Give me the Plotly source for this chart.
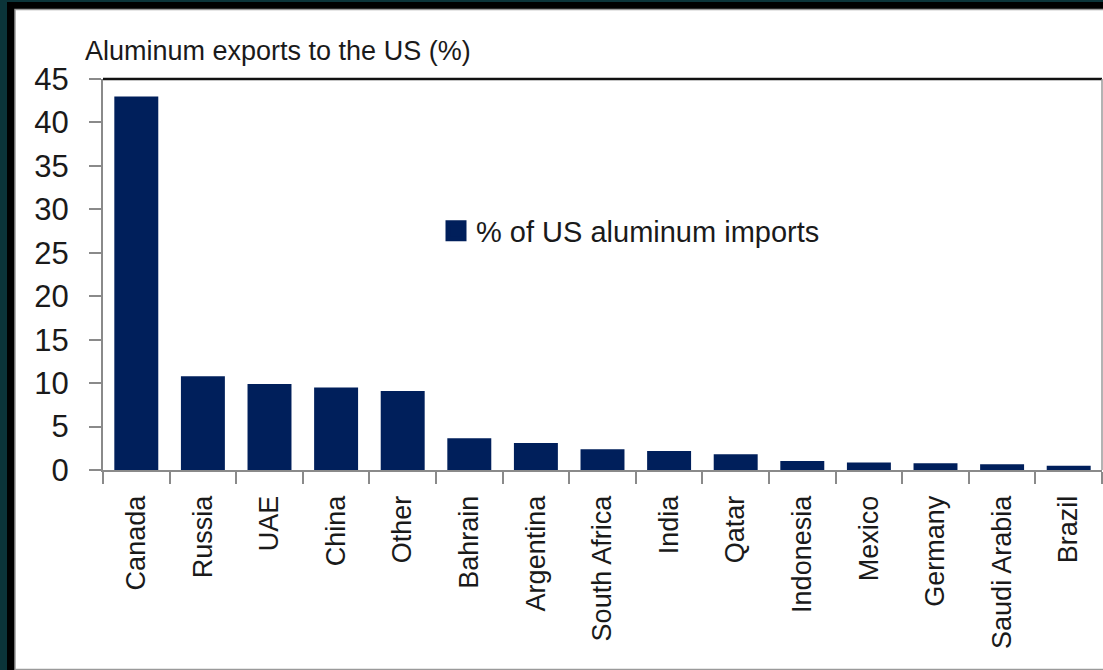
import plotly.graph_objects as go

countries = ["Canada", "Russia", "UAE", "China", "Other", "Bahrain", "Argentina",
             "South Africa", "India", "Qatar", "Indonesia", "Mexico", "Germany",
             "Saudi Arabia", "Brazil"]
share_pct = [43.0, 10.8, 9.9, 9.5, 9.1, 3.65, 3.1, 2.4, 2.2, 1.8, 1.05, 0.85, 0.78, 0.65, 0.5]
y_ticks = [0, 5, 10, 15, 20, 25, 30, 35, 40, 45]

series_name = "% of US aluminum imports"
title_text = "Aluminum exports to the US (%)"

NAVY = "#001f5b"
FONT = "Liberation Sans, Arial, sans-serif"
TXT = "#1a1a1a"

fig = go.Figure()
fig.add_trace(go.Bar(x=countries, y=share_pct, marker=dict(color=NAVY, line=dict(width=0)),
                     width=0.66, showlegend=False, name=series_name))
fig.add_trace(go.Scatter(x=[None], y=[None], mode="markers", name=series_name,
                         marker=dict(symbol="square", size=16, color=NAVY,
                                     line=dict(color=NAVY, width=5))))

W, H = 1103, 670
L, R, T, B = 103, 1, 79, 200

def px(x):
    return (x - L) / (W - L - R)

def py(y):
    return (H - B - y) / (H - T - B)

shapes = [
    dict(type="rect", xref="paper", yref="paper", x0=px(0), x1=px(W), y0=py(H), y1=py(0),
         fillcolor="#0b3439", line=dict(width=0), layer="below"),
    dict(type="rect", xref="paper", yref="paper", x0=px(7), x1=px(W + 5), y0=py(H + 5), y1=py(2),
         fillcolor="#000000", line=dict(width=0), layer="below"),
    dict(type="rect", xref="paper", yref="paper", x0=px(15), x1=px(W + 5), y0=py(669.5), y1=py(9.5),
         fillcolor="#ffffff", line=dict(color="#9a9a9a", width=1.5), layer="below"),
    dict(type="line", xref="paper", yref="paper", x0=0, x1=1, y0=1, y1=1,
         line=dict(color="#111111", width=2.5)),
    dict(type="line", xref="paper", yref="paper", x0=1, x1=1, y0=0, y1=1,
         line=dict(color="#9a9a9a", width=1.5)),
]

fig.update_layout(
    width=W, height=H,
    margin=dict(l=L, r=R, t=T, b=B),
    paper_bgcolor="#ffffff", plot_bgcolor="#ffffff",
    font=dict(family=FONT, color=TXT, size=28),
    shapes=shapes,
    showlegend=True,
    legend=dict(x=px(436), y=py(231), xanchor="left", yanchor="middle",
                bgcolor="rgba(0,0,0,0)", font=dict(size=29, family=FONT, color=TXT),
                itemsizing="trace", itemwidth=30, tracegroupgap=0),
    annotations=[dict(text=title_text, xref="paper", yref="paper", x=px(83), y=py(51),
                      xanchor="left", yanchor="middle", showarrow=False,
                      font=dict(size=27, family=FONT, color=TXT))],
    bargap=0.34,
)

fig.update_xaxes(
    type="category", tickangle=-90, tickson="boundaries", ticks="outside", ticklen=12,
    tickcolor="#8a8a8a", tickwidth=2, showline=True, linecolor="#8a8a8a", linewidth=2,
    showgrid=False, tickfont=dict(size=27, family=FONT, color=TXT), ticklabelstandoff=13,
    range=[-0.5, len(countries) - 0.5],
)
fig.update_yaxes(
    range=[0, 45], tickvals=y_ticks, ticks="outside", ticklen=12, tickcolor="#8a8a8a",
    tickwidth=2, showline=True, linecolor="#8a8a8a", linewidth=2, showgrid=False,
    zeroline=False, tickfont=dict(size=31, family=FONT, color=TXT), ticklabelstandoff=14,
)

fig.write_html("out.html", config={"displayModeBar": False},
               post_script="document.body.style.margin='0';")
